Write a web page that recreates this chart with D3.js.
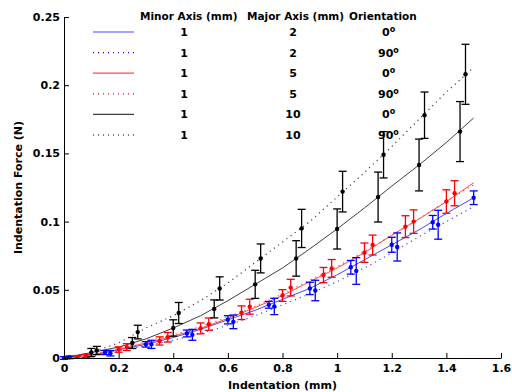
<!DOCTYPE html>
<html>
<head>
<meta charset="utf-8">
<script src="https://cdn.jsdelivr.net/npm/d3@7"></script>
<style>
  body { margin: 0; background: #fff; }
  svg { display: block; }
  text { font-family: "DejaVu Sans", sans-serif; font-weight: bold; }
</style>
</head>
<body>
<div id="chart"></div>
<script>
// axis ticks
const xTicks = [0, 0.2, 0.4, 0.6, 0.8, 1, 1.2, 1.4, 1.6];
const xTickLabels = ["0", "0.2", "0.4", "0.6", "0.8", "1", "1.2", "1.4", "1.6"];
const yTicks = [0, 0.05, 0.1, 0.15, 0.2, 0.25];
const yTickLabels = ["0", "0.05", "0.1", "0.15", "0.2", "0.25"];

// continuous curves (indentation, mm)
const lineX = [0, 0.1, 0.2, 0.3, 0.4, 0.5, 0.6, 0.7, 0.8, 0.9, 1.0, 1.1, 1.2, 1.3, 1.4, 1.5];
const blue0Line  = [0, 0.002, 0.006, 0.010, 0.015, 0.021, 0.028, 0.035, 0.043, 0.051, 0.061, 0.072, 0.083, 0.094, 0.106, 0.1175];
const blue90Line = [0, 0.0015, 0.005, 0.009, 0.013, 0.018, 0.024, 0.031, 0.039, 0.047, 0.056, 0.066, 0.077, 0.089, 0.100, 0.111];
const red0Line   = [0, 0.002, 0.0062, 0.011, 0.016, 0.0217, 0.029, 0.037, 0.0458, 0.056, 0.066, 0.0772, 0.090, 0.102, 0.1147, 0.1285];
const red90Line  = [0, 0.0025, 0.007, 0.012, 0.017, 0.023, 0.030, 0.038, 0.047, 0.057, 0.067, 0.078, 0.090, 0.102, 0.115, 0.127];
const black0Line = [0, 0.004, 0.008, 0.014, 0.022, 0.031, 0.042, 0.054, 0.066, 0.080, 0.0946, 0.110, 0.126, 0.1415, 0.158, 0.176];
const black90Line = [0, 0.004, 0.011, 0.022, 0.031, 0.042, 0.055, 0.070, 0.085, 0.100, 0.118, 0.136, 0.155, 0.175, 0.195, 0.213];

// mean points with error bars
const blue0X   = [0, 0.15, 0.30, 0.45, 0.60, 0.75, 0.90, 1.05, 1.20, 1.35, 1.50];
const blue0Y   = [0, 0.004, 0.010, 0.018, 0.028, 0.039, 0.051, 0.0665, 0.083, 0.0995, 0.1175];
const blue0Err = [0.001, 0.0015, 0.002, 0.0025, 0.003, 0.0025, 0.0045, 0.005, 0.0055, 0.005, 0.005];

const blue90X   = [0.02, 0.17, 0.32, 0.47, 0.62, 0.77, 0.92, 1.07, 1.22, 1.37];
const blue90Y   = [0.0005, 0.0035, 0.010, 0.017, 0.0265, 0.0378, 0.0495, 0.0638, 0.0814, 0.0977];
const blue90Err = [0.001, 0.002, 0.003, 0.004, 0.005, 0.006, 0.0075, 0.0098, 0.0103, 0.0106];

const red0X   = [0.05, 0.20, 0.35, 0.50, 0.65, 0.80, 0.95, 1.10, 1.25, 1.40];
const red0Y   = [0.0008, 0.0062, 0.0125, 0.0217, 0.0332, 0.0458, 0.0608, 0.0772, 0.0963, 0.1147];
const red0Err = [0.001, 0.002, 0.003, 0.004, 0.005, 0.0043, 0.0056, 0.0071, 0.008, 0.0086];

const red90X   = [0.08, 0.23, 0.38, 0.53, 0.68, 0.83, 0.98, 1.13, 1.28, 1.43];
const red90Y   = [0.0015, 0.008, 0.0152, 0.0248, 0.0376, 0.0516, 0.0657, 0.0828, 0.100, 0.1208];
const red90Err = [0.0012, 0.0025, 0.0035, 0.0045, 0.0055, 0.0061, 0.0065, 0.0073, 0.0086, 0.0092];

const black0X   = [0.10, 0.25, 0.40, 0.55, 0.70, 0.85, 1.00, 1.15, 1.30, 1.45];
const black0Y   = [0.004, 0.011, 0.022, 0.036, 0.054, 0.073, 0.0946, 0.118, 0.1415, 0.166];
const black0Err = [0.003, 0.004, 0.006, 0.0066, 0.0103, 0.013, 0.0147, 0.0183, 0.019, 0.022];

const black90X   = [0.12, 0.27, 0.42, 0.57, 0.72, 0.87, 1.02, 1.17, 1.32, 1.47];
const black90Y   = [0.0055, 0.019, 0.033, 0.051, 0.073, 0.095, 0.122, 0.149, 0.178, 0.208];
const black90Err = [0.003, 0.005, 0.0077, 0.0085, 0.0106, 0.014, 0.0149, 0.017, 0.017, 0.022];

// legend table
const minorAxis = ["1", "1", "1", "1", "1", "1"];
const majorAxis = ["2", "2", "5", "5", "10", "10"];
const orientation = ["0", "90", "0", "90", "0", "90"];

const series = [
  { line: blue0Line,   x: blue0X,   y: blue0Y,   err: blue0Err,   color: "#0000ff", lineColor: "#4848ff", dotted: false },
  { line: blue90Line,  x: blue90X,  y: blue90Y,  err: blue90Err,  color: "#0000ff", lineColor: "#4848ff", dotted: true },
  { line: red0Line,    x: red0X,    y: red0Y,    err: red0Err,    color: "#ff0000", lineColor: "#ff4848", dotted: false },
  { line: red90Line,   x: red90X,   y: red90Y,   err: red90Err,   color: "#ff0000", lineColor: "#ff4848", dotted: true },
  { line: black0Line,  x: black0X,  y: black0Y,  err: black0Err,  color: "#000000", lineColor: "#404040", dotted: false },
  { line: black90Line, x: black90X, y: black90Y, err: black90Err, color: "#000000", lineColor: "#404040", dotted: true }
];

const width = 512, height = 392;
const margin = { top: 17, right: 11, bottom: 34, left: 64 };

const svg = d3.select("#chart")
  .append("svg")
    .attr("width", width)
    .attr("height", height);

const x = d3.scaleLinear()
  .domain([0, 1.6])
  .range([margin.left, width - margin.right]);

const y = d3.scaleLinear()
  .domain([0, 0.25])
  .range([height - margin.bottom, margin.top]);

// lines
const line = d3.line()
  .x(d => x(d[0]))
  .y(d => y(d[1]));

series.forEach(s => {
  svg.append("path")
    .datum(lineX.map((v, i) => [v, s.line[i]]))
    .attr("fill", "none")
    .attr("stroke", s.lineColor)
    .attr("stroke-width", s.dotted ? 1.2 : 1)
    .attr("stroke-dasharray", s.dotted ? "1.2,4" : null)
    .attr("d", line);
});

// error bars + markers
series.forEach(s => {
  const pts = s.x.map((v, i) => ({ x: v, y: s.y[i], e: s.err[i] }));
  const g = svg.append("g")
    .attr("stroke", s.color)
    .attr("stroke-width", 1.3);

  g.selectAll(".stem")
    .data(pts)
    .enter()
    .append("line")
      .attr("x1", d => x(d.x))
      .attr("x2", d => x(d.x))
      .attr("y1", d => y(d.y - d.e))
      .attr("y2", d => y(d.y + d.e));

  g.selectAll(".capTop")
    .data(pts)
    .enter()
    .append("line")
      .attr("x1", d => x(d.x) - 4)
      .attr("x2", d => x(d.x) + 4)
      .attr("y1", d => y(d.y + d.e))
      .attr("y2", d => y(d.y + d.e));

  g.selectAll(".capBot")
    .data(pts)
    .enter()
    .append("line")
      .attr("x1", d => x(d.x) - 4)
      .attr("x2", d => x(d.x) + 4)
      .attr("y1", d => y(d.y - d.e))
      .attr("y2", d => y(d.y - d.e));

  g.selectAll("circle")
    .data(pts)
    .enter()
    .append("circle")
      .attr("cx", d => x(d.x))
      .attr("cy", d => y(d.y))
      .attr("r", 2.2)
      .attr("stroke", "none")
      .attr("fill", s.color);
});

// axes (ticks inside, no box)
const xAxis = svg.append("g")
  .attr("transform", "translate(0," + (height - margin.bottom) + ")")
  .call(d3.axisBottom(x)
    .tickValues(xTicks)
    .tickFormat((d, i) => xTickLabels[i])
    .tickSizeInner(-5)
    .tickSizeOuter(0)
    .tickPadding(6));

const yAxis = svg.append("g")
  .attr("transform", "translate(" + margin.left + ",0)")
  .call(d3.axisLeft(y)
    .tickValues(yTicks)
    .tickFormat((d, i) => yTickLabels[i])
    .tickSizeInner(-5)
    .tickSizeOuter(0)
    .tickPadding(4));

[xAxis, yAxis].forEach(a => {
  a.attr("font-family", null).attr("font-size", null);
  a.selectAll("text")
    .attr("fill", "#000")
    .style("font-size", "11px");
  a.selectAll("line, path").attr("stroke", "#000");
});

svg.append("text")
  .attr("x", x(0.8))
  .attr("y", 389)
  .attr("text-anchor", "middle")
  .style("font-size", "11px")
  .text("Indentation (mm)");

svg.append("text")
  .attr("transform", "translate(22," + y(0.125) + ") rotate(-90)")
  .attr("text-anchor", "middle")
  .style("font-size", "11px")
  .text("Indentation Force (N)");

// legend
const legend = svg.append("g");
const headerY = 20;
legend.append("text").attr("x", 140).attr("y", headerY).style("font-size", "10.5px").text("Minor Axis (mm)");
legend.append("text").attr("x", 247).attr("y", headerY).style("font-size", "10.5px").text("Major Axis (mm)");
legend.append("text").attr("x", 349).attr("y", headerY).style("font-size", "10.5px").text("Orientation");

series.forEach((s, i) => {
  const ry = 32 + i * 20.6;
  legend.append("line")
    .attr("x1", 93).attr("x2", 134)
    .attr("y1", ry).attr("y2", ry)
    .attr("stroke", s.dotted ? s.color : s.lineColor)
    .attr("stroke-width", 1.2)
    .attr("stroke-dasharray", s.dotted ? "1,4" : null);

  legend.append("text")
    .attr("x", 184).attr("y", ry + 4)
    .attr("text-anchor", "middle")
    .style("font-size", "11px")
    .text(minorAxis[i]);

  legend.append("text")
    .attr("x", 293).attr("y", ry + 4)
    .attr("text-anchor", "middle")
    .style("font-size", "11px")
    .text(majorAxis[i]);

  const t = legend.append("text")
    .attr("x", orientation[i].length > 1 ? 378 : 382).attr("y", ry + 4)
    .style("font-size", "11px");
  t.append("tspan").text(orientation[i]);
  t.append("tspan").attr("dy", -4).style("font-size", "8px").text("o");
});
</script>
</body>
</html>
